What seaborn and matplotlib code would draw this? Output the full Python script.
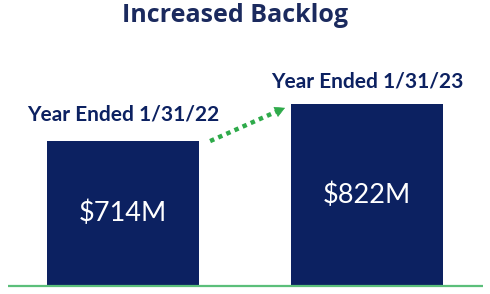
import matplotlib
matplotlib.use("Agg")
import matplotlib.pyplot as plt
import seaborn as sns
import pandas as pd

# ---- data ----
periods = ["Year Ended 1/31/22", "Year Ended 1/31/23"]
backlog_musd = [714, 822]
value_labels = ["$714M", "$822M"]
title = "Increased Backlog"

NAVY = "#0c2161"
TITLE_C = "#1b2a5e"
GREEN = "#2eaa4a"
BASE_GREEN = "#5bbf7a"

sns.set_theme(style="white")
plt.rcParams["font.family"] = ["Lato", "DejaVu Sans"]

fig = plt.figure(figsize=(4.9, 2.94), dpi=100)
ax = fig.add_axes([0, 8 / 294, 1, 286 / 294])

df = pd.DataFrame({"period": periods, "backlog": backlog_musd})
sns.barplot(data=df, x="period", y="backlog", color=NAVY, saturation=1,
            width=0.62, ax=ax, edgecolor="none")

y0 = 291
ax.set_xlim(-123 / 244, (490 - 123) / 244)
ax.set_ylim(y0, y0 + 286 / 0.3426)
ax.axis("off")

# baseline
ax.plot([-0.471, 1.475], [y0, y0], color=BASE_GREEN, lw=1.6, clip_on=False,
        solid_capstyle="butt")

# labels above bars and values inside
offsets = [27, 23]
for i, (lab, v, vl) in enumerate(zip(periods, backlog_musd, value_labels)):
    ax.annotate(lab, xy=(i, v), xytext=(0, offsets[i] * 72 / 100),
                textcoords="offset points", ha="center", va="center",
                fontsize=15, fontweight="bold", color=NAVY,
                annotation_clip=False)
    ax.text(i, (y0 + v) / 2, vl, ha="center", va="center", fontsize=19.5,
            color="white")

# dotted growth arrow
x_start, y_start = 0.357, backlog_musd[0]
x_end, y_end = 0.664, backlog_musd[1] - 11
x_mid = x_end - 0.035
y_mid = y_start + (y_end - y_start) * (x_mid - x_start) / (x_end - x_start)
ax.plot([x_start, x_mid], [y_start, y_mid], color=GREEN, lw=3.2,
        linestyle=(0, (1, 1)), dash_capstyle="butt", clip_on=False)
ax.annotate("", xy=(x_end, y_end), xytext=(x_mid, y_mid),
            arrowprops=dict(arrowstyle="-|>,head_length=0.55,head_width=0.3",
                            color=GREEN, lw=0.5, shrinkA=0, shrinkB=0),
            annotation_clip=False)

fig.text(235 / 490, 1 - 16 / 294, title, ha="center", va="center",
         fontsize=18, fontweight="bold", color=TITLE_C,
         family=["Open Sans", "DejaVu Sans"])

fig.savefig("out.png", dpi=100)
